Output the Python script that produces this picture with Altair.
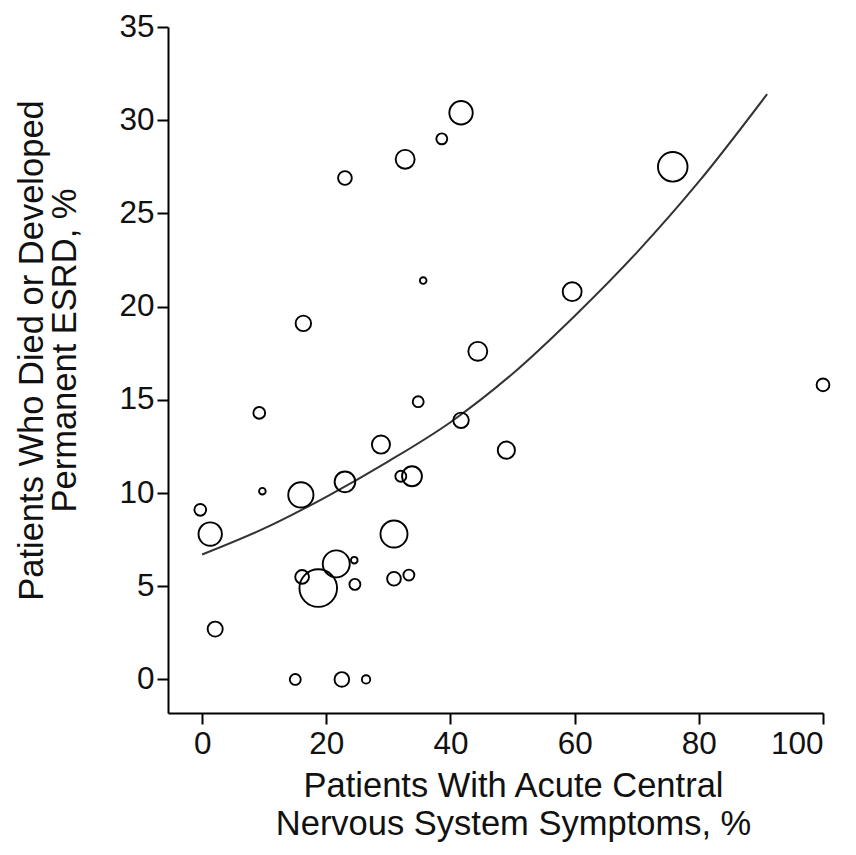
import altair as alt
import pandas as pd

# Study points: % with acute CNS symptoms, % died or permanent ESRD, study weight
cns_pct = [41.7, 38.6, 32.7, 23.0, 75.8, 35.6, 59.6, 16.3, 44.4, 100.0,
           34.8, 9.2, 41.7, 28.8, 49.0, 33.8, 32.0, 23.0, 15.9, 9.7,
           -0.3, 1.3, 30.9, 21.6, 24.5, 16.1, 18.7, 24.6, 30.9, 33.3,
           2.1, 15.0, 22.5, 26.4]
death_esrd_pct = [30.4, 29.0, 27.9, 26.9, 27.5, 21.4, 20.8, 19.1, 17.6, 15.8,
                  14.9, 14.3, 13.9, 12.6, 12.3, 10.9, 10.9, 10.6, 9.9, 10.1,
                  9.1, 7.8, 7.8, 6.2, 6.4, 5.5, 4.9, 5.1, 5.4, 5.6,
                  2.7, 0.0, 0.0, 0.0]
study_weight = [87, 19, 57, 30, 139, 7, 57, 38, 57, 26,
                19, 22, 38, 52, 47, 63, 19, 68, 101, 7,
                22, 87, 116, 116, 7, 30, 225, 19, 30, 19,
                36, 19, 34, 11]

# Fitted curve
curve_x = [0, 10, 20, 30, 40, 50, 60, 70, 80, 91]
curve_y = [6.7, 8.1, 9.8, 11.7, 13.8, 16.4, 19.5, 22.9, 26.7, 31.4]

x_ticks = [0, 20, 40, 60, 80, 100]
y_ticks = [0, 5, 10, 15, 20, 25, 30, 35]

pts = pd.DataFrame({"x": cns_pct, "y": death_esrd_pct, "w": study_weight})
crv = pd.DataFrame({"x": curve_x, "y": curve_y})

FONT = "Liberation Sans"
W, H = 655, 686

xscale = alt.Scale(domain=[-5.5, 100], nice=False, zero=False)
yscale = alt.Scale(domain=[-1.8, 35], nice=False, zero=False)

xaxis = alt.Axis(values=x_ticks, title=["Patients With Acute Central", "Nervous System Symptoms, %"],
                 titlePadding=10, labelPadding=4, titleLineHeight=38, titleX=345)
yaxis = alt.Axis(values=y_ticks, title=["Patients Who Died or Developed", "Permanent ESRD, %"],
                 titlePadding=36, labelPadding=3, titleLineHeight=33, titleY=323)

points = alt.Chart(pts).mark_point(shape="circle", filled=False, color="black",
                                   strokeWidth=1.9, opacity=1).encode(
    x=alt.X("x:Q", scale=xscale, axis=xaxis),
    y=alt.Y("y:Q", scale=yscale, axis=yaxis),
    size=alt.Size("w:Q", scale=alt.Scale(type="linear", domain=[0, 225], range=[0, 1414]), legend=None),
)

line = alt.Chart(crv).mark_line(color="#333333", strokeWidth=2, interpolate="monotone").encode(
    x=alt.X("x:Q", scale=xscale),
    y=alt.Y("y:Q", scale=yscale),
)

chart = alt.layer(line, points).properties(
    width=W, height=H,
    autosize=alt.AutoSizeParams(type="none"),
    padding={"left": 160, "top": 19, "right": 25, "bottom": 130},
).configure_view(stroke=None).configure_axis(
    grid=False,
    domainColor="black", domainWidth=2,
    tickColor="black", tickWidth=2, tickSize=11,
    labelFont=FONT, labelFontSize=31.5, labelColor="#111111",
    titleFont=FONT, titleFontSize=34.5, titleFontWeight="normal", titleColor="#111111",
)

chart.save("out.html", embed_options={"renderer": "svg", "actions": False})
